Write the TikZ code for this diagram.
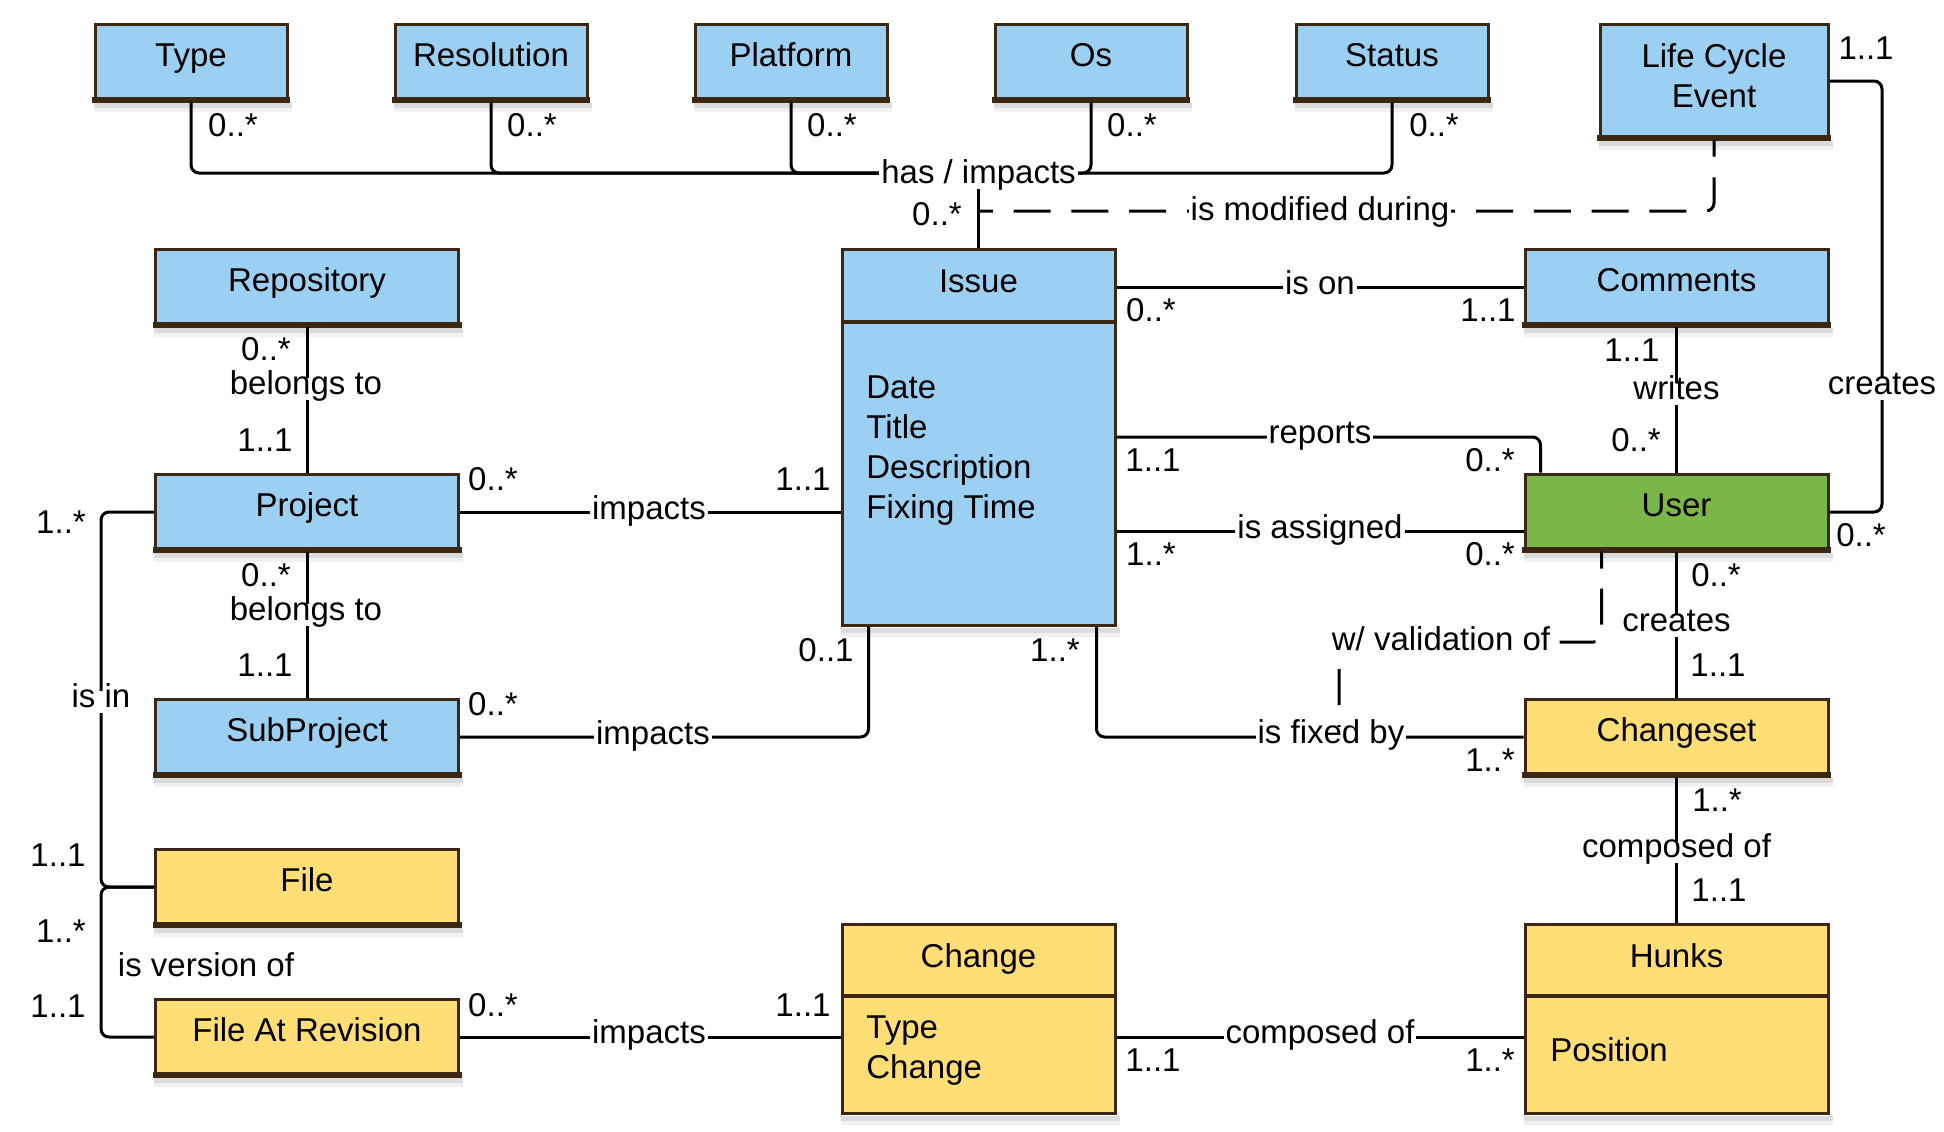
\documentclass[tikz,border=0pt]{standalone}
\usepackage{fontspec}
\setmainfont{Liberation Sans}
\definecolor{bd}{RGB}{59,39,18}
\definecolor{bluef}{RGB}{155,208,243}
\definecolor{yelf}{RGB}{255,222,117}
\definecolor{grnf}{RGB}{122,182,72}
\begin{document}
\begin{tikzpicture}[x=0.5pt,y=-0.5pt,
  font=\fontsize{16.5}{20}\selectfont,
  box/.style={draw=bd,line width=1.5pt,inner sep=0pt,text height=0.72em,text depth=0.30em},
  sbox/.style={box,minimum width=96pt,minimum height=38pt,fill=bluef},
  wbox/.style={box,minimum width=151.5pt,minimum height=38pt},
  conn/.style={draw=black,line width=1.5pt,rounded corners=4pt},
  dconn/.style={conn,dash pattern=on 18pt off 10pt,dash phase=9.5pt},
  dconnb/.style={conn,dash pattern=on 18.5pt off 10.4pt,dash phase=10pt},
  lbl/.style={fill=white,inner sep=1pt,text height=0.72em,text depth=0.21em,yshift=-2.5pt},
  mult/.style={inner sep=0pt,text height=0.72em,text depth=0.21em,yshift=-1.75pt},
  ttl/.style={inner sep=0pt,anchor=base},
  attr/.style={inner sep=0pt,align=left,anchor=north west}
]
\useasboundingbox (0,0) rectangle (1944,1131);

% ---------- boxes ----------
\node[sbox] (type) at (191,62) {Type};
\node[sbox] (resolution) at (491,62) {Resolution};
\node[sbox] (platform) at (791,62) {Platform};
\node[sbox] (os) at (1091,62) {Os};
\node[sbox] (status) at (1392,62) {Status};
\node[box,fill=bluef,minimum width=114pt,minimum height=57pt] (lce) at (1714,81) {};
\node[ttl,align=center,anchor=north] (lcet) at (1714,43) {Life Cycle\\Event};

\node[wbox,fill=bluef] (repository) at (307,287) {Repository};
\node[wbox,fill=bluef] (project) at (307,512) {Project};
\node[wbox,fill=bluef] (subproject) at (307,737) {SubProject};
\node[wbox,fill=yelf] (file) at (307,887) {File};
\node[wbox,fill=yelf] (far) at (307,1037) {File At Revision};

\node[box,fill=bluef,minimum width=136.5pt,minimum height=188pt] (issue) at (978.5,437) {};
\node[ttl] (issuet) at (978.5,292) {Issue};
\node[attr] (issuea) at (866,375) {Date\\Title\\Description\\Fixing Time};

\node[wbox,fill=bluef] (comments) at (1676.5,287) {Comments};
\node[wbox,fill=grnf] (user) at (1676.5,512) {User};
\node[wbox,fill=yelf] (changeset) at (1676.5,737) {Changeset};

\node[box,fill=yelf,minimum width=136.5pt,minimum height=94.5pt] (change) at (978.5,1018.5) {};
\node[ttl] (changet) at (978.5,967) {Change};
\node[attr] (changea) at (866,1015) {Type\\Change};

\node[box,fill=yelf,minimum width=151.5pt,minimum height=94.5pt] (hunks) at (1676.5,1018.5) {};
\node[ttl] (hunkst) at (1676.5,967) {Hunks};
\node[ttl,anchor=base west] (hunksa) at (1550,1061) {Position};

% compartment dividers
\coordinate (dv1) at (0,322);
\coordinate (dv2) at (0,996);
\draw[bd,line width=2pt] (issue.west |- dv1) -- (issue.east |- dv1);
\draw[bd,line width=2pt] (change.west |- dv2) -- (change.east |- dv2);
\draw[bd,line width=2pt] (hunks.west |- dv2) -- (hunks.east |- dv2);

% shadows and thick bottoms
\foreach \n in {type,resolution,platform,os,status,lce,repository,project,subproject,file,far,issue,comments,user,changeset,change,hunks}{
  \fill[black!14] ([shift={(0pt,-0.75pt)}]\n.south west) rectangle ([shift={(1.5pt,-3pt)}]\n.south east);
  \fill[black!6] ([shift={(0pt,-3pt)}]\n.south west) rectangle ([shift={(1.5pt,-5pt)}]\n.south east);
}
\foreach \n in {type,resolution,platform,os,status,lce,repository,project,subproject,file,far,comments,user,changeset}{
  \fill[bd] ([shift={(-0.75pt,-0.75pt)}]\n.south west) rectangle ([shift={(0.75pt,2.25pt)}]\n.south east);
}

% ---------- connectors ----------
\coordinate (hub) at (978.5,173);
\draw[conn] (issue.north) -- (hub);
\foreach \n in {type,resolution,platform,os,status} \draw[conn] (\n.south) |- (hub);

\coordinate (modj) at (978.5,211);
\draw[dconnb] (lce.south) |- (modj);

\draw[conn] (repository.south) -- (project.north);
\draw[conn] (project.south) -- (subproject.north);
\draw[conn] (project.east) -- (project.east -| issue.west);
\draw[conn] (subproject.east) -| ([xshift=14pt]issue.south west);
\draw[conn] (comments.west) -- (comments.west -| issue.east);
\draw[conn] (issue.east) -| ([xshift=8.5pt]user.north west);
\draw[conn] ([yshift=-9.5pt]user.west) -- ([yshift=-9.5pt]user.west -| issue.east);
\draw[conn] (comments.south) -- (user.north);
\coordinate (crv) at (1882,300);
\draw[conn] (lce.east) -| (crv) |- (user.east);
\draw[conn] (user.south) -- (changeset.north);

\coordinate (vbend) at (1339,642);
\coordinate (vfix) at (1339,737);
\draw[dconn] ([xshift=-37.5pt]user.south) |- (vbend) -- (vfix);

\draw[conn] ([xshift=-10pt]issue.south east) |- (changeset.west);
\draw[conn] (changeset.south) -- (hunks.north);
\draw[conn] (far.east) -- (far.east -| change.west);
\draw[conn] (far.east -| change.east) -- (far.east -| hunks.west);

\coordinate (lx1) at (101,700);
\coordinate (lx2) at (101,960);
\draw[conn] (project.west) -| (lx1) |- (file.west);
\draw[conn] (file.west) -| (lx2) |- (far.west);

% ---------- relationship labels ----------
\node[lbl] (r1) at (978.5,173) {has / impacts};
\node[lbl] (r2) at (1320,210) {is modified during};
\node[lbl] (r3) at (306,384) {belongs to};
\node[lbl] (r4) at (306,610) {belongs to};
\node[lbl] (r5) at (649,509) {impacts};
\node[lbl] (r6) at (653,734) {impacts};
\node[lbl] (r7) at (1320,284) {is on};
\node[lbl] (r8) at (1320,433) {reports};
\node[lbl] (r9) at (1320,528) {is assigned};
\node[lbl] (r10) at (1676.5,389) {writes};
\node[lbl] (r11) at (1882,384) {creates};
\node[lbl] (r12) at (1676.5,621) {creates};
\node[lbl] (r13) at (1441,640) {w/ validation of};
\node[lbl] (r14) at (1331,733) {is fixed by};
\node[lbl] (r15) at (1676.5,847) {composed of};
\node[lbl] (r16) at (1320,1033) {composed of};
\node[lbl] (r17) at (649,1033) {impacts};
\node[lbl] (r18) at (101,697) {is in};
\node[mult,yshift=-0.75pt] (r19) at (206,966) {is version of};

% ---------- multiplicities ----------
\node[mult] (m1) at (233,128) {0..*};
\node[mult] (m2) at (532,128) {0..*};
\node[mult] (m3) at (832,128) {0..*};
\node[mult] (m4) at (1132,128) {0..*};
\node[mult] (m5) at (1434,128) {0..*};
\node[mult] (m6) at (937,217) {0..*};
\node[mult] (m7) at (1866,51) {1..1};
\node[mult] (m8) at (266,352) {0..*};
\node[mult] (m9) at (265,443) {1..1};
\node[mult] (m10) at (493,482) {0..*};
\node[mult] (m11) at (803,482) {1..1};
\node[mult] (m12) at (61,525) {1..*};
\node[mult] (m13) at (266,578) {0..*};
\node[mult] (m14) at (265,668) {1..1};
\node[mult] (m15) at (493,707) {0..*};
\node[mult] (m16) at (826,653) {0..1};
\node[mult] (m17) at (1151,313) {0..*};
\node[mult] (m18) at (1488,313) {1..1};
\node[mult] (m19) at (1632,353) {1..1};
\node[mult] (m20) at (1636,443) {0..*};
\node[mult] (m21) at (1153,463) {1..1};
\node[mult] (m22) at (1490,463) {0..*};
\node[mult] (m23) at (1151,557) {1..*};
\node[mult] (m24) at (1490,557) {0..*};
\node[mult] (m25) at (1861,538) {0..*};
\node[mult] (m26) at (1716,578) {0..*};
\node[mult] (m27) at (1718,668) {1..1};
\node[mult] (m28) at (1055,653) {1..*};
\node[mult] (m29) at (1490,763) {1..*};
\node[mult] (m30) at (1717,803) {1..*};
\node[mult] (m31) at (1719,893) {1..1};
\node[mult] (m32) at (58,858) {1..1};
\node[mult] (m33) at (61,934) {1..*};
\node[mult] (m34) at (58,1009) {1..1};
\node[mult] (m35) at (493,1008) {0..*};
\node[mult] (m36) at (803,1008) {1..1};
\node[mult] (m37) at (1153,1063) {1..1};
\node[mult] (m38) at (1490,1063) {1..*};
\end{tikzpicture}
\end{document}
